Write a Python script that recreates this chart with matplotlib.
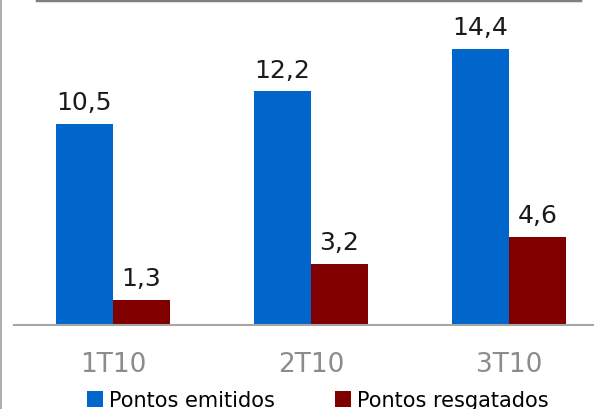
import numpy as np
import matplotlib
matplotlib.use('Agg')
import matplotlib.pyplot as plt
from matplotlib.lines import Line2D

quarters = ['1T10', '2T10', '3T10']
emitidos = [10.5, 12.2, 14.4]
resgatados = [1.3, 3.2, 4.6]
series_names = ['Pontos emitidos', 'Pontos resgatados']

blue = '#0066CC'
red = '#800000'

plt.rcParams['font.family'] = 'DejaVu Sans'

fig = plt.figure(figsize=(5.94, 4.10), dpi=100)
# axes is wider than the figure so the last group sits near the right edge
ax = fig.add_axes([14 / 594, 84 / 410, 1.0, 325.6 / 410])

x = np.arange(len(quarters))
w = 0.288
b1 = ax.bar(x - w / 2, emitidos, w, color=blue, label=series_names[0])
b2 = ax.bar(x + w / 2, resgatados, w, color=red, label=series_names[1])

for bars in (b1, b2):
    for rect in bars:
        val = rect.get_height()
        ax.annotate(f'{val:.1f}'.replace('.', ','),
                    (rect.get_x() + rect.get_width() / 2, val),
                    xytext=(0, 7), textcoords='offset points',
                    ha='center', va='bottom', fontsize=18, color='#1A1A1A')

ax.set_xlim(-0.5, 2.5)
ax.set_ylim(0, 17)
ax.set_xticks(x)
ax.set_xticklabels(quarters, fontsize=19, color='#8C8C8C')
ax.tick_params(axis='x', length=0, pad=19)
ax.set_yticks([])
for side in ['top', 'right', 'left']:
    ax.spines[side].set_visible(False)
ax.spines['bottom'].set_color('#A6A6A6')
ax.spines['bottom'].set_linewidth(1.5)

fig.legend(handles=[b1, b2], loc='center', bbox_to_anchor=(0.535, 0.022),
           ncol=2, frameon=False, fontsize=15, handlelength=0.75,
           handleheight=0.8, handletextpad=0.3, columnspacing=2.9,
           borderaxespad=0, borderpad=0)

# cropped frame edges of the original screenshot
fig.add_artist(Line2D([37 / 594, 580 / 594], [409 / 410, 409 / 410],
                      color='#808080', lw=2.5, transform=fig.transFigure))
fig.add_artist(Line2D([0.8 / 594, 0.8 / 594], [0, 1],
                      color='#A0A0A0', lw=1.2, transform=fig.transFigure))

fig.savefig('out.png', dpi=100)
